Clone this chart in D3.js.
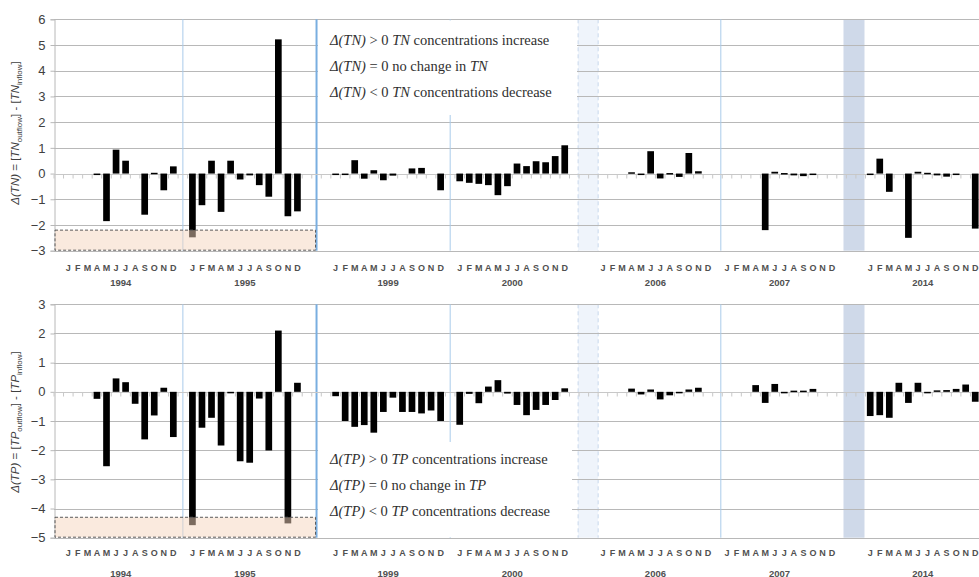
<!DOCTYPE html>
<html>
<head>
<meta charset="utf-8">
<script src="https://cdn.jsdelivr.net/npm/d3@7"></script>
<style>
  body { margin: 0; background: #fff; }
  svg { display: block; }
</style>
</head>
<body>
<svg id="chart" width="979" height="577"></svg>
<script>
// ---- data -------------------------------------------------------------
const months = ["J", "F", "M", "A", "M", "J", "J", "A", "S", "O", "N", "D"];
const years = ["1994", "1995", "1999", "2000", "2006", "2007", "2014"];
// empty category slots placed in front of each year group
const gapsBefore = [1, 1, 3, 1, 3, 1, 3];

// Δ(TN) = [TN outflow] - [TN inflow], one row per year, null = no sample
const tnMonthly = [
  [null, null, null, -0.05, -1.85, 0.93, 0.5, null, -1.6, 0.03, -0.65, 0.28],
  [-2.48, -1.23, 0.5, -1.49, 0.5, -0.23, -0.07, -0.45, -0.9, 5.22, -1.66, -1.47],
  [-0.03, -0.03, 0.52, -0.2, 0.13, -0.26, -0.08, null, 0.2, 0.22, null, -0.65],
  [-0.3, -0.36, -0.4, -0.45, -0.84, -0.49, 0.39, 0.29, 0.48, 0.44, 0.68, 1.1],
  [null, null, null, 0.05, -0.05, 0.87, -0.19, 0.02, -0.13, 0.8, 0.09, null],
  [null, null, null, null, -2.2, 0.07, 0.02, -0.07, -0.1, -0.05, null, null],
  [-0.05, 0.58, -0.71, null, -2.5, 0.07, 0.03, -0.07, -0.12, -0.05, null, -2.14]
];

// Δ(TP) = [TP outflow] - [TP inflow]
const tpMonthly = [
  [null, null, null, -0.24, -2.55, 0.46, 0.33, -0.41, -1.63, -0.81, 0.14, -1.55],
  [-4.57, -1.23, -0.89, -1.84, -0.03, -2.38, -2.43, -0.23, -2.01, 2.1, -4.51, 0.31],
  [-0.15, -1.0, -1.2, -1.14, -1.4, -0.69, -0.2, -0.69, -0.69, -0.74, -0.64, -1.0],
  [-1.13, -0.07, -0.39, 0.18, 0.4, -0.06, -0.45, -0.8, -0.62, -0.45, -0.28, 0.12],
  [null, null, null, 0.11, -0.09, 0.08, -0.26, -0.12, -0.03, 0.08, 0.14, null],
  [null, null, null, 0.23, -0.38, 0.27, -0.02, 0.04, 0.04, 0.1, null, null],
  [-0.83, -0.8, -0.89, 0.31, -0.38, 0.31, -0.02, 0.05, 0.06, 0.1, 0.25, -0.34]
];

const tnTicks = [-3, -2, -1, 0, 1, 2, 3, 4, 5, 6];
const tpTicks = [-5, -4, -3, -2, -1, 0, 1, 2, 3];

// highlighted value ranges (low, high) for 1994–1995
const tnHighlight = [-3, -2.2];
const tpHighlight = [-5, -4.3];

// separators and shaded breaks, in category-slot units
const separators = [13.5, 27.5, 41.5, 69.85];
const lightBreak = [54.9, 57.0];
const darkBreak = [82.7, 84.9];

const tnNotes = [
  [["Δ(TN)", true], [" > 0 ", false], ["TN", true], [" concentrations increase", false]],
  [["Δ(TN)", true], [" = 0 no change in ", false], ["TN", true]],
  [["Δ(TN)", true], [" < 0 ", false], ["TN", true], [" concentrations decrease", false]]
];
const tpNotes = [
  [["Δ(TP)", true], [" > 0 ", false], ["TP", true], [" concentrations increase", false]],
  [["Δ(TP)", true], [" = 0 no change in ", false], ["TP", true]],
  [["Δ(TP)", true], [" < 0 ", false], ["TP", true], [" concentrations decrease", false]]
];

// ---- slot layout --------------------------------------------------------
const slotOf = [];           // slotOf[yearIndex][monthIndex]
let cursor = 0;
years.forEach((y, g) => {
  cursor += gapsBefore[g];
  slotOf.push(d3.range(12).map(m => cursor + m));
  cursor += 12;
});
const slotCount = cursor;    // 97

const svg = d3.select("#chart");
const X0 = 54, X1 = 980;
const xBand = d3.scaleBand().domain(d3.range(slotCount)).range([X0, X1]).paddingInner(0.3).paddingOuter(0.15);
const xLin = d3.scaleLinear().domain([0, slotCount]).range([X0, X1]);

const gridColor = "#b8b8b8";
const textColor = "#404040";

function drawPanel(cfg) {
  const g = svg.append("g");
  const y = d3.scaleLinear().domain(cfg.domain).range(cfg.range);
  const top = y(cfg.domain[1]), bottom = y(cfg.domain[0]);

  // shaded breaks between year groups
  g.append("rect")
    .attr("x", xLin(lightBreak[0])).attr("width", xLin(lightBreak[1]) - xLin(lightBreak[0]))
    .attr("y", top).attr("height", bottom - top)
    .attr("fill", "#eff4fb");
  [lightBreak[0], lightBreak[1]].forEach(s => {
    g.append("line")
      .attr("x1", xLin(s)).attr("x2", xLin(s)).attr("y1", top).attr("y2", bottom)
      .attr("stroke", "#c8d7ec").attr("stroke-width", 1).attr("stroke-dasharray", "4,3");
  });
  g.append("rect")
    .attr("x", xLin(darkBreak[0])).attr("width", xLin(darkBreak[1]) - xLin(darkBreak[0]))
    .attr("y", top).attr("height", bottom - top)
    .attr("fill", "#cfd9e9");

  // horizontal gridlines
  g.append("g").selectAll("line").data(cfg.ticks.filter(t => t !== 0)).join("line")
    .attr("x1", X0).attr("x2", X1)
    .attr("y1", d => Math.round(y(d)) + 0.5).attr("y2", d => Math.round(y(d)) + 0.5)
    .attr("stroke", gridColor).attr("stroke-width", 1);

  // left value axis
  const yAxis = d3.axisLeft(y).tickValues(cfg.ticks).tickSize(4).tickFormat(d3.format("d"));
  const ya = g.append("g").attr("transform", `translate(${X0 + 0.5},0)`).call(yAxis);
  ya.select(".domain").attr("stroke", gridColor);
  ya.selectAll(".tick line").attr("stroke", gridColor);
  ya.selectAll(".tick text")
    .attr("x", -9)
    .attr("fill", textColor)
    .style("font-family", "'Liberation Sans', Arial, sans-serif")
    .style("font-size", "13px");

  // year separators
  separators.forEach((s, i) => {
    g.append("line")
      .attr("x1", xLin(s)).attr("x2", xLin(s)).attr("y1", top).attr("y2", bottom)
      .attr("stroke", i === 1 ? "#79aee0" : "#a9cbea")
      .attr("stroke-width", i === 1 ? 2 : 1);
  });

  // category axis at zero with slot ticks
  const y0 = Math.round(y(0)) + 0.5;
  g.append("line").attr("x1", X0).attr("x2", X1).attr("y1", y0).attr("y2", y0)
    .attr("stroke", "#c8c8c8").attr("stroke-width", 1);
  g.append("g").selectAll("line").data(d3.range(slotCount + 1)).join("line")
    .attr("x1", d => xLin(d)).attr("x2", d => xLin(d))
    .attr("y1", y0).attr("y2", y0 + 4)
    .attr("stroke", "#c8c8c8").attr("stroke-width", 1);

  // bars
  const points = [];
  cfg.values.forEach((row, gi) => row.forEach((v, m) => {
    if (v !== null) points.push({ slot: slotOf[gi][m], v });
  }));
  g.append("g").selectAll("rect").data(points).join("rect")
    .attr("x", d => xBand(d.slot))
    .attr("width", xBand.bandwidth())
    .attr("y", d => Math.min(y(d.v), y(0)))
    .attr("height", d => Math.max(1.5, Math.abs(y(d.v) - y(0))))
    .attr("fill", "#000");

  // highlighted low range for 1994–1995
  g.append("rect")
    .attr("x", X0 + 1).attr("width", xLin(separators[1]) - X0 - 2)
    .attr("y", y(cfg.highlight[1])).attr("height", y(cfg.highlight[0]) - y(cfg.highlight[1]) - 0.5)
    .attr("fill", "rgb(246,214,190)").attr("fill-opacity", 0.5)
    .attr("stroke", "#5a5a5a").attr("stroke-width", 1).attr("stroke-dasharray", "3,2");

  // note box
  const nb = cfg.noteBox;
  g.append("rect").attr("x", nb.x0).attr("y", nb.y0)
    .attr("width", nb.x1 - nb.x0).attr("height", nb.y1 - nb.y0).attr("fill", "#fff");
  cfg.notes.forEach((line, i) => {
    const t = g.append("text")
      .attr("x", nb.tx).attr("y", nb.ty + i * nb.dy)
      .attr("fill", "#303030")
      .style("font-family", "'Liberation Serif', 'Times New Roman', serif")
      .style("font-size", "14.5px");
    line.forEach(([s, it]) => t.append("tspan").text(s).style("font-style", it ? "italic" : "normal"));
  });

  // category labels: months and years
  const lab = g.append("g")
    .style("font-family", "'Liberation Sans', Arial, sans-serif")
    .style("font-weight", "bold")
    .attr("fill", "#505050")
    .attr("text-anchor", "middle");
  years.forEach((yr, gi) => {
    slotOf[gi].forEach((s, m) => {
      lab.append("text")
        .attr("x", xBand(s) + xBand.bandwidth() / 2)
        .attr("y", cfg.monthY)
        .style("font-size", "9px")
        .text(months[m]);
    });
    const mid = (xBand(slotOf[gi][0]) + xBand(slotOf[gi][11]) + xBand.bandwidth()) / 2;
    lab.append("text").attr("x", mid).attr("y", cfg.yearY)
      .style("font-size", "9.5px").text(yr);
  });

  // value axis title
  const title = g.append("text")
    .attr("transform", `translate(${cfg.titleX},${cfg.titleY}) rotate(-90)`)
    .attr("text-anchor", "middle")
    .attr("fill", textColor)
    .style("font-family", "'Liberation Sans', Arial, sans-serif")
    .style("font-size", "11.5px");
  title.append("tspan").style("font-style", "italic").text(`Δ(${cfg.name})`);
  title.append("tspan").text(" = [");
  title.append("tspan").style("font-style", "italic").text(cfg.name);
  title.append("tspan").attr("dy", 2.5).style("font-size", "8px").text("outflow");
  title.append("tspan").attr("dy", -2.5).text("] - [");
  title.append("tspan").style("font-style", "italic").text(cfg.name);
  title.append("tspan").attr("dy", 2.5).style("font-size", "8px").text("inflow");
  title.append("tspan").attr("dy", -2.5).text("]");
}

drawPanel({
  name: "TN",
  values: tnMonthly,
  domain: [-3, 6],
  range: [250.7, 19.3],
  ticks: tnTicks,
  highlight: tnHighlight,
  monthY: 271,
  yearY: 285.5,
  titleX: 19,
  titleY: 133,
  notes: tnNotes,
  noteBox: { x0: 318, x1: 577, y0: 20.5, y1: 115, tx: 330, ty: 45, dy: 25.8 }
});

drawPanel({
  name: "TP",
  values: tpMonthly,
  domain: [-5, 3],
  range: [537.7, 304.3],
  ticks: tpTicks,
  highlight: tpHighlight,
  monthY: 556,
  yearY: 576.5,
  titleX: 19,
  titleY: 422,
  notes: tpNotes,
  noteBox: { x0: 318, x1: 572, y0: 442, y1: 537, tx: 330, ty: 464, dy: 25.8 }
});
</script>
</body>
</html>
